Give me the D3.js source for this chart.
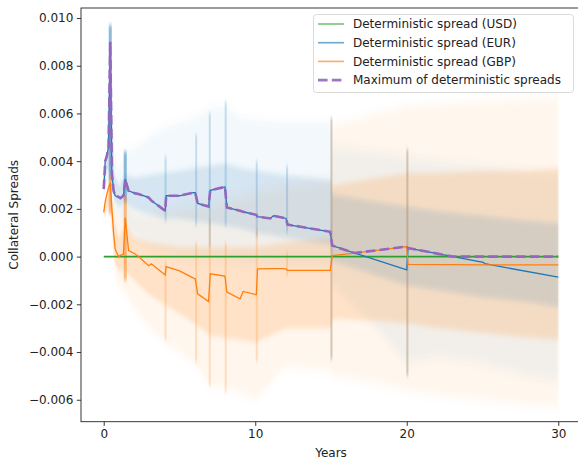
<!DOCTYPE html>
<html>
<head>
<meta charset="utf-8">
<script src="https://cdnjs.cloudflare.com/ajax/libs/d3/7.8.5/d3.min.js"></script>
<style>
body { margin: 0; background: #fff; }
svg text { font-family: "DejaVu Sans", sans-serif; fill: #222; }
</style>
</head>
<body>
<div id="main"></div>
<script>

// deterministic spreads, all on one time grid (years)
var years = [0, 0.10, 0.20, 0.32, 0.43, 0.54, 0.65, 0.76, 0.98, 1.10, 1.30, 1.42, 1.64, 2.08, 2.30, 2.96, 3.14,
	4.06, 4.12, 5.00, 5.93, 6.04, 6.20, 6.92, 7.03, 8.00, 8.13, 9.00, 9.20, 10.07, 10.15, 11.00, 11.20, 11.76,
	12.03, 12.13, 13.00, 14.95, 15.08, 16.57, 20.00, 20.08, 23.05, 25.05, 25.15, 30.00];
var usd = years.map(function() { return 0; });
var eur = [0.00283, 0.00400, 0.00420, 0.00460, 0.00900, 0.00350, 0.00276, 0.00255, 0.00250, 0.00245, 0.00255,
	0.00324, 0.00276, 0.00265, 0.00262, 0.00248, 0.00235, 0.00192, 0.00255, 0.00255, 0.00268, 0.00268, 0.00223,
	0.00210, 0.00278, 0.00292, 0.00206, 0.00192, 0.00188, 0.00175, 0.00167, 0.00160, 0.00171, 0.00164, 0.00160,
	0.00134, 0.00125, 0.00104, 0.00046, 0.00015, -0.00056, 0.00036, 0.00000, -0.00024, -0.00030, -0.00086];
var gbp = [0.00185, 0.00230, 0.00260, 0.00290, 0.00310, 0.00200, 0.00100, 0.00030, 0.00000, 0.00005, 0.00010,
	0.00164, 0.00025, 0.00011, 0.00000, -0.00038, -0.00030, -0.00077, -0.00042, -0.00060, -0.00090, -0.00093,
	-0.00156, -0.00188, -0.00072, -0.00082, -0.00149, -0.00177, -0.00146, -0.00160, -0.00051, -0.00050, -0.00050,
	-0.00050, -0.00051, -0.00058, -0.00058, -0.00058, 0.00004, 0.00015, 0.00042, -0.00033, -0.00034, -0.00035,
	-0.00035, -0.00035];

// simulated paths, summarised as outer (faint) and inner (dense) envelopes
var cloudYears = [0, 0.2, 0.43, 0.7, 1, 1.42, 2, 3, 4, 5, 6, 7, 8, 9, 10, 12, 15, 15.1, 18, 20, 22, 25, 28, 30];
var eurOuterHi = [0.0030, 0.0045, 0.0097, 0.0042, 0.0036, 0.0044, 0.0045, 0.0050, 0.0054, 0.0056, 0.0058, 0.0062,
	0.0063, 0.0058, 0.0057, 0.0056, 0.0056, 0.0046, 0.0044, 0.0042, 0.0040, 0.0038, 0.0036, 0.0035];
var eurOuterLo = [0.0026, 0.0030, 0.0032, 0.0020, 0.0018, 0.0012, 0.0008, 0.0004, 0.0002, 0.0000, -0.0001, -0.0002,
	-0.0002, -0.0003, -0.0003, -0.0004, -0.0005, -0.0012, -0.0030, -0.0045, -0.0042, -0.0045, -0.0050, -0.0052];
var eurInnerHi = [0.0029, 0.0042, 0.0090, 0.0034, 0.0030, 0.0034, 0.0033, 0.0034, 0.0035, 0.0036, 0.0037, 0.0038,
	0.0039, 0.0037, 0.0036, 0.0034, 0.0032, 0.0026, 0.0023, 0.0021, 0.0019, 0.0017, 0.0015, 0.0014];
var eurInnerLo = [0.0027, 0.0036, 0.0035, 0.0024, 0.0021, 0.0023, 0.0020, 0.0018, 0.0016, 0.0016, 0.0015, 0.0014,
	0.0013, 0.0012, 0.0010, 0.0008, 0.0005, -0.0002, -0.0008, -0.0012, -0.0014, -0.0017, -0.0019, -0.0021];
var gbpOuterHi = [0.0021, 0.0028, 0.0034, 0.0025, 0.0016, 0.0025, 0.0018, 0.0018, 0.0019, 0.0020, 0.0021, 0.0022,
	0.0024, 0.0025, 0.0027, 0.0030, 0.0032, 0.0055, 0.0060, 0.0063, 0.0064, 0.0065, 0.0066, 0.0067];
var gbpOuterLo = [0.0016, 0.0018, 0.0018, -0.0006, -0.0012, -0.0015, -0.0022, -0.0030, -0.0036, -0.0040, -0.0045,
	-0.0054, -0.0055, -0.0057, -0.0060, -0.0046, -0.0048, -0.0050, -0.0053, -0.0056, -0.0058, -0.0060, -0.0062, -0.0063];
var gbpInnerHi = [0.0020, 0.0025, 0.0031, 0.0015, 0.0008, 0.0014, 0.0008, 0.0006, 0.0005, 0.0004, 0.0004, 0.0004,
	0.0004, 0.0004, 0.0004, 0.0006, 0.0008, 0.0030, 0.0033, 0.0035, 0.0035, 0.0036, 0.0036, 0.0037];
var gbpInnerLo = [0.0017, 0.0020, 0.0022, -0.0002, -0.0006, -0.0006, -0.0010, -0.0016, -0.0020, -0.0024, -0.0028,
	-0.0033, -0.0034, -0.0035, -0.0036, -0.0030, -0.0030, -0.0026, -0.0027, -0.0028, -0.0030, -0.0032, -0.0034, -0.0035];

// vertical streaks where the simulated paths jump
var streakYears = [0.43, 1.42, 4.08, 6.1, 7.0, 8.05, 10.1, 12.1, 15.03, 20.04];
var eurStreakHi = [0.0097, 0.0044, 0.0042, 0.0051, 0.0060, 0.0065, 0.0040, 0.0038, 0.0058, 0.0045];
var eurStreakLo = [0.0032, 0.0023, 0.0015, 0.0013, 0.0004, 0.0013, 0.0008, 0.0010, -0.0043, -0.0050];
var gbpStreakHi = [0.0034, 0.0025, -0.0002, 0.0006, 0.0016, 0.0006, 0.0012, 0.0002, 0.0058, 0.0045];
var gbpStreakLo = [0.0018, -0.0010, -0.0035, -0.0044, -0.0054, -0.0057, -0.0044, -0.0008, -0.0043, -0.0050];

var xTicks = [0, 10, 20, 30];
var yTicks = [-0.006, -0.004, -0.002, 0, 0.002, 0.004, 0.006, 0.008, 0.010];
var legendLabels = ["Deterministic spread (USD)", "Deterministic spread (EUR)",
	"Deterministic spread (GBP)", "Maximum of deterministic spreads"];

var blue = "#1f77b4", orange = "#ff7f0e", green = "#2ca02c", purple = "#9467bd";

//Width and height
var w = 578,
	h = 460;
var axL = 81, axT = 8, axR = 581, axB = 421.7;

var x = d3.scaleLinear().domain([-1.5, 31.5]).range([axL, axR]);
var y = d3.scaleLinear().domain([-0.00692, 0.01042]).range([axB, axT]);

var svg = d3.select("#main")
	.append("svg")
	.attr("width", w)
	.attr("height", h);

var defs = svg.append("defs");
defs.append("clipPath").attr("id", "plotclip")
	.append("rect")
	.attr("x", axL).attr("y", axT)
	.attr("width", axR - axL).attr("height", axB - axT);
// blur mostly vertically so the cloud keeps sharp ends at 0 and 30 years
[["softWide", "0.8 5"], ["softNarrow", "0.6 2.5"], ["softStreak", "0.6 2"]].forEach(function(f) {
	defs.append("filter").attr("id", f[0])
		.attr("x", "-20%").attr("y", "-20%").attr("width", "140%").attr("height", "140%")
		.append("feGaussianBlur").attr("stdDeviation", f[1]);
});

var plot = svg.append("g").attr("clip-path", "url(#plotclip)");

// clouds
var band = function(hi, lo) {
	return d3.area()
		.x(function(d, i) { return x(cloudYears[i]); })
		.y0(function(d, i) { return y(lo[i]); })
		.y1(function(d, i) { return y(hi[i]); })(cloudYears);
};
plot.append("path").attr("d", band(gbpOuterHi, gbpOuterLo)).attr("fill", orange).attr("fill-opacity", 0.07)
	.attr("filter", "url(#softWide)");
plot.append("path").attr("d", band(eurOuterHi, eurOuterLo)).attr("fill", blue).attr("fill-opacity", 0.05)
	.attr("filter", "url(#softWide)");
plot.append("path").attr("d", band(gbpInnerHi, gbpInnerLo)).attr("fill", orange).attr("fill-opacity", 0.16)
	.attr("filter", "url(#softNarrow)");
plot.append("path").attr("d", band(eurInnerHi, eurInnerLo)).attr("fill", blue).attr("fill-opacity", 0.15)
	.attr("filter", "url(#softNarrow)");

// streaks
var streaks = plot.append("g").attr("filter", "url(#softStreak)");
[[eurStreakHi, eurStreakLo, blue], [gbpStreakHi, gbpStreakLo, orange]].forEach(function(s) {
	streaks.selectAll(null)
		.data(streakYears)
		.enter()
		.append("line")
		.attr("x1", function(d) { return x(d); })
		.attr("x2", function(d) { return x(d); })
		.attr("y1", function(d, i) { return y(s[0][i]); })
		.attr("y2", function(d, i) { return y(s[1][i]); })
		.attr("stroke", s[2])
		.attr("stroke-width", function(d, i) { return i < 2 ? 3 : 2; })
		.attr("stroke-opacity", function(d, i) { return i < 2 ? 0.5 : 0.22; });
});

// deterministic lines
var line = function(vals) {
	return d3.line()
		.x(function(d, i) { return x(years[i]); })
		.y(function(d) { return y(d); })(vals);
};
var maxSpread = years.map(function(d, i) { return Math.max(usd[i], eur[i], gbp[i]); });

plot.append("path").attr("d", line(usd)).attr("fill", "none").attr("stroke", green).attr("stroke-width", 1.8);
plot.append("path").attr("d", line(eur)).attr("fill", "none").attr("stroke", blue).attr("stroke-width", 1.3);
plot.append("path").attr("d", line(gbp)).attr("fill", "none").attr("stroke", orange).attr("stroke-width", 1.3);
plot.append("path").attr("d", line(maxSpread)).attr("fill", "none").attr("stroke", purple)
	.attr("stroke-width", 2.6).attr("stroke-dasharray", "9.6,4.2");

// axes
var xAxis = svg.append("g")
	.attr("transform", "translate(0," + axB + ")")
	.call(d3.axisBottom(x).tickValues(xTicks).tickSize(4.2).tickPadding(3.5).tickFormat(d3.format("d")));
var yAxis = svg.append("g")
	.attr("transform", "translate(" + axL + ",0)")
	.call(d3.axisLeft(y).tickValues(yTicks).tickSize(4.2).tickPadding(3.5).tickFormat(d3.format(".3f")));
[xAxis, yAxis].forEach(function(a) {
	a.select(".domain").remove();
	a.selectAll("line").attr("stroke", "#222").attr("stroke-width", 0.9);
	a.selectAll("text").attr("font-size", "12px").attr("fill", "#222").style("font-family", "DejaVu Sans");
});

// spines
svg.append("rect")
	.attr("x", axL).attr("y", axT)
	.attr("width", axR - axL).attr("height", axB - axT)
	.attr("fill", "none").attr("stroke", "#222").attr("stroke-width", 0.9);

svg.append("text")
	.attr("x", (axL + axR) / 2).attr("y", 457)
	.attr("text-anchor", "middle").attr("font-size", "12px")
	.text("Years");
svg.append("text")
	.attr("transform", "translate(18," + (axT + axB) / 2 + ") rotate(-90)")
	.attr("text-anchor", "middle").attr("font-size", "12px")
	.text("Collateral Spreads");

// legend
var legend = svg.append("g");
legend.append("rect")
	.attr("x", 313.5).attr("y", 14.5)
	.attr("width", 260).attr("height", 78)
	.attr("rx", 3)
	.attr("fill", "#fff").attr("fill-opacity", 0.8)
	.attr("stroke", "#d6d6d6").attr("stroke-width", 0.9);
var legendColors = [green, blue, orange, purple];
var rows = legend.selectAll("g.row")
	.data(legendLabels)
	.enter()
	.append("g")
	.attr("class", "row")
	.attr("transform", function(d, i) { return "translate(0," + (24 + i * 18.7) + ")"; });
rows.append("line")
	.attr("x1", 318).attr("x2", 344)
	.attr("stroke", function(d, i) { return legendColors[i]; })
	.attr("stroke-opacity", function(d, i) { return i < 3 ? 0.65 : 0.9; })
	.attr("stroke-width", function(d, i) { return i < 3 ? 1.6 : 2.6; })
	.attr("stroke-dasharray", function(d, i) { return i < 3 ? null : "9.6,4.2"; });
rows.append("text")
	.attr("x", 353).attr("y", 4.3)
	.attr("font-size", "12px")
	.text(function(d) { return d; });

</script>
</body>
</html>
